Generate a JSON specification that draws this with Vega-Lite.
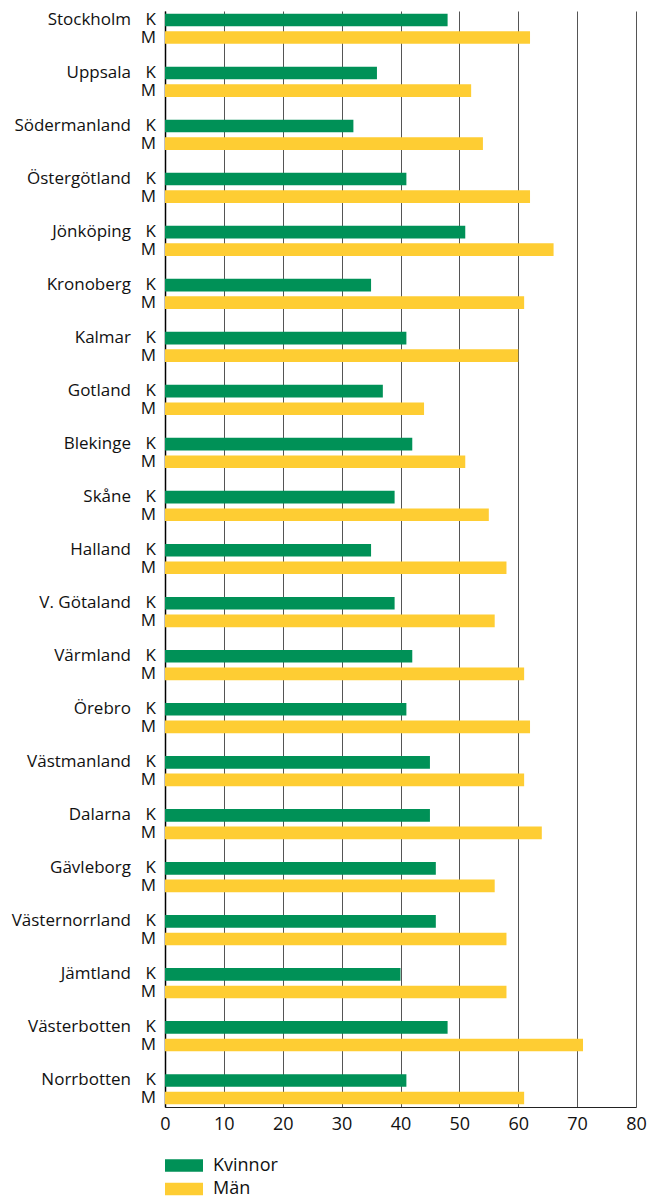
{
  "$schema": "https://vega.github.io/schema/vega-lite/v6.json",
  "width": 471,
  "height": 1096,
  "autosize": {"type": "none"},
  "padding": {"left": 165, "top": 11, "right": 12, "bottom": 90},
  "config": {"view": {"stroke": null}, "font": "Open Sans"},
  "data": {"values": [
    {"county": "Stockholm", "sex": "K", "value": 48}, {"county": "Stockholm", "sex": "M", "value": 62},
    {"county": "Uppsala", "sex": "K", "value": 36}, {"county": "Uppsala", "sex": "M", "value": 52},
    {"county": "Södermanland", "sex": "K", "value": 32}, {"county": "Södermanland", "sex": "M", "value": 54},
    {"county": "Östergötland", "sex": "K", "value": 41}, {"county": "Östergötland", "sex": "M", "value": 62},
    {"county": "Jönköping", "sex": "K", "value": 51}, {"county": "Jönköping", "sex": "M", "value": 66},
    {"county": "Kronoberg", "sex": "K", "value": 35}, {"county": "Kronoberg", "sex": "M", "value": 61},
    {"county": "Kalmar", "sex": "K", "value": 41}, {"county": "Kalmar", "sex": "M", "value": 60},
    {"county": "Gotland", "sex": "K", "value": 37}, {"county": "Gotland", "sex": "M", "value": 44},
    {"county": "Blekinge", "sex": "K", "value": 42}, {"county": "Blekinge", "sex": "M", "value": 51},
    {"county": "Skåne", "sex": "K", "value": 39}, {"county": "Skåne", "sex": "M", "value": 55},
    {"county": "Halland", "sex": "K", "value": 35}, {"county": "Halland", "sex": "M", "value": 58},
    {"county": "V. Götaland", "sex": "K", "value": 39}, {"county": "V. Götaland", "sex": "M", "value": 56},
    {"county": "Värmland", "sex": "K", "value": 42}, {"county": "Värmland", "sex": "M", "value": 61},
    {"county": "Örebro", "sex": "K", "value": 41}, {"county": "Örebro", "sex": "M", "value": 62},
    {"county": "Västmanland", "sex": "K", "value": 45}, {"county": "Västmanland", "sex": "M", "value": 61},
    {"county": "Dalarna", "sex": "K", "value": 45}, {"county": "Dalarna", "sex": "M", "value": 64},
    {"county": "Gävleborg", "sex": "K", "value": 46}, {"county": "Gävleborg", "sex": "M", "value": 56},
    {"county": "Västernorrland", "sex": "K", "value": 46}, {"county": "Västernorrland", "sex": "M", "value": 58},
    {"county": "Jämtland", "sex": "K", "value": 40}, {"county": "Jämtland", "sex": "M", "value": 58},
    {"county": "Västerbotten", "sex": "K", "value": 48}, {"county": "Västerbotten", "sex": "M", "value": 71},
    {"county": "Norrbotten", "sex": "K", "value": 41}, {"county": "Norrbotten", "sex": "M", "value": 61}
  ]},
  "encoding": {
    "y": {
      "field": "county", "type": "nominal", "sort": null,
      "scale": {"paddingInner": 0.43, "paddingOuter": 0.05},
      "axis": {"labels": false, "ticks": false, "title": null, "grid": false, "domainColor": "#000000", "domainWidth": 1.5}
    },
    "yOffset": {"field": "sex", "type": "nominal", "sort": ["K", "M"], "scale": {"paddingInner": 0.28, "paddingOuter": 0}}
  },
  "layer": [
    {
      "mark": {"type": "bar"},
      "encoding": {
        "x": {
          "field": "value", "type": "quantitative",
          "scale": {"domain": [0, 80], "nice": false},
          "axis": {
            "values": [0, 10, 20, 30, 40, 50, 60, 70, 80],
            "title": null, "ticks": false, "labelPadding": 8, "labelFlush": false,
            "labelFontSize": 18, "labelColor": "#111111", "labelFont": "Open Sans",
            "grid": true, "gridColor": "#555555", "gridWidth": 1, "gridOpacity": 1,
            "domainColor": "#222222", "domainWidth": 1.2
          }
        },
        "color": {
          "field": "sex", "type": "nominal",
          "scale": {"domain": ["K", "M"], "range": ["#009157", "#FECD33"]},
          "legend": {
            "title": null, "orient": "none", "legendX": 9, "legendY": 1144.5, "direction": "vertical",
            "symbolType": "M-1.9,-0.62H1.9V0.62H-1.9Z", "symbolSize": 400, "symbolStrokeWidth": 0,
            "labelExpr": "datum.label == 'K' ? 'Kvinnor' : 'Män'",
            "labelFontSize": 18, "labelColor": "#111111", "labelOffset": 19, "rowPadding": 4.5
          }
        }
      }
    },
    {
      "mark": {"type": "text", "align": "right", "baseline": "middle", "dx": -9, "fontSize": 17, "color": "#111111"},
      "encoding": {"x": {"datum": 0}, "text": {"field": "sex"}}
    },
    {
      "transform": [{"filter": "datum.sex == 'K'"}],
      "mark": {"type": "text", "align": "right", "baseline": "middle", "dx": -34, "fontSize": 17, "color": "#111111"},
      "encoding": {"x": {"datum": 0}, "text": {"field": "county"}}
    }
  ]
}
